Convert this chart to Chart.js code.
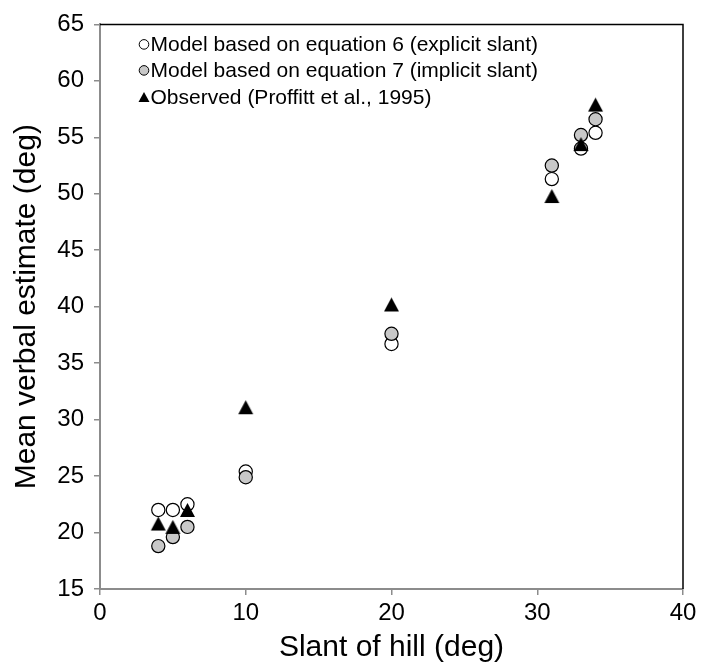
<!DOCTYPE html>
<html>
<head>
<meta charset="utf-8">
<script src="https://cdn.jsdelivr.net/npm/chart.js@4.4.1/dist/chart.umd.min.js"></script>
<style>
  html, body { margin: 0; padding: 0; background: #fff; }
  #wrap { width: 701px; height: 667px; position: relative; }
</style>
</head>
<body>
<div id="wrap"><canvas id="grafico" width="701" height="667"></canvas></div>
<script>
'use strict';

// ── Dati ──────────────────────────────────────────────
const slant    = [4, 5, 6, 10, 20, 31, 33, 34];
const modelEq6 = [22.0, 22.0, 22.5, 25.4, 36.7, 51.3, 54.0, 55.4];
const modelEq7 = [18.8, 19.6, 20.5, 24.9, 37.6, 52.5, 55.2, 56.6];
const observed = [20.8, 20.5, 22.0, 31.1, 40.2, 49.8, 54.4, 57.9];

const seriesLabels = [
  'Model based on equation 6 (explicit slant)',
  'Model based on equation 7 (implicit slant)',
  'Observed (Proffitt et al., 1995)'
];

const xRange = [0, 40];
const xStep = 10;
const yRange = [15, 65];
const yStep = 5;

const FONT = "'Liberation Sans', Arial, Helvetica, sans-serif";
const AXIS_GREY = '#8c8c8c';
const FILL_GREY = '#c8c8c8';

function pts(xs, ys) {
  return xs.map((x, i) => ({ x: x, y: ys[i] }));
}

// triangolo centrato sul bounding box (come nei marker di Excel)
function makeTriangle(w, h) {
  const c = document.createElement('canvas');
  c.width = w + 2;
  c.height = h + 2;
  const g = c.getContext('2d');
  g.fillStyle = '#000';
  g.beginPath();
  g.moveTo(c.width / 2, 1);
  g.lineTo(c.width - 1, h + 1);
  g.lineTo(1, h + 1);
  g.closePath();
  g.fill();
  return c;
}

const triMarker = makeTriangle(15, 14);

// cornice superiore e destra
const framePlugin = {
  id: 'frame',
  afterDraw(chart) {
    const { ctx, chartArea: a } = chart;
    ctx.save();
    ctx.strokeStyle = '#000';
    ctx.lineWidth = 1.5;
    ctx.beginPath();
    ctx.moveTo(a.left, a.top);
    ctx.lineTo(a.right, a.top);
    ctx.lineTo(a.right, a.bottom);
    ctx.stroke();
    ctx.restore();
  }
};

// legenda interna all'area del grafico
const legendPlugin = {
  id: 'innerLegend',
  afterDraw(chart) {
    const { ctx, chartArea: a } = chart;
    const x0 = a.left + 44;
    const rows = [a.top + 20, a.top + 46, a.top + 73];
    ctx.save();
    ctx.font = '21px ' + FONT;
    ctx.textBaseline = 'middle';
    ctx.fillStyle = '#000';
    chart.data.datasets.forEach((ds, i) => {
      const y = rows[i];
      ctx.lineWidth = 1;
      ctx.strokeStyle = '#000';
      if (ds.pointStyle === 'circle') {
        ctx.beginPath();
        ctx.arc(x0, y, 4.8, 0, Math.PI * 2);
        ctx.fillStyle = ds.backgroundColor;
        ctx.fill();
        ctx.stroke();
      } else {
        ctx.fillStyle = '#000';
        ctx.beginPath();
        ctx.moveTo(x0, y - 5.5);
        ctx.lineTo(x0 + 5.5, y + 4.5);
        ctx.lineTo(x0 - 5.5, y + 4.5);
        ctx.closePath();
        ctx.fill();
      }
      ctx.fillStyle = '#000';
      ctx.fillText(ds.label, x0 + 6.5, y + 1);
    });
    ctx.restore();
  }
};

const ctx = document.getElementById('grafico').getContext('2d');

new Chart(ctx, {
  type: 'scatter',
  data: {
    datasets: [
      {
        label: seriesLabels[0],
        data: pts(slant, modelEq6),
        pointStyle: 'circle',
        pointRadius: 6.6,
        pointBorderWidth: 1.2,
        backgroundColor: '#ffffff',
        borderColor: '#000',
        order: 2
      },
      {
        label: seriesLabels[1],
        data: pts(slant, modelEq7),
        pointStyle: 'circle',
        pointRadius: 6.6,
        pointBorderWidth: 1.2,
        backgroundColor: FILL_GREY,
        borderColor: '#000',
        order: 1
      },
      {
        label: seriesLabels[2],
        data: pts(slant, observed),
        pointStyle: triMarker,
        pointRadius: 7,
        backgroundColor: '#000',
        borderColor: '#000',
        order: 0
      }
    ]
  },
  options: {
    responsive: false,
    animation: false,
    layout: { padding: { left: 0, right: 18, top: 22, bottom: 0 } },
    plugins: {
      legend: { display: false },
      tooltip: { enabled: false }
    },
    scales: {
      x: {
        type: 'linear',
        min: xRange[0],
        max: xRange[1],
        ticks: {
          stepSize: xStep,
          color: '#000',
          padding: 4,
          font: { family: FONT, size: 24 }
        },
        grid: {
          drawOnChartArea: false,
          drawTicks: true,
          tickLength: 6,
          color: AXIS_GREY,
          lineWidth: 1.5
        },
        border: { color: AXIS_GREY, width: 2 },
        title: {
          display: true,
          text: 'Slant of hill (deg)',
          color: '#000',
          font: { family: FONT, size: 30 },
          padding: { top: 0, bottom: 1 }
        },
        afterFit(scale) { scale.height = 78; }
      },
      y: {
        type: 'linear',
        min: yRange[0],
        max: yRange[1],
        ticks: {
          stepSize: yStep,
          color: '#000',
          padding: 10,
          font: { family: FONT, size: 24 }
        },
        grid: {
          drawOnChartArea: false,
          drawTicks: true,
          tickLength: 6,
          color: AXIS_GREY,
          lineWidth: 1.5
        },
        border: { color: AXIS_GREY, width: 2 },
        title: {
          display: true,
          text: 'Mean verbal estimate (deg)',
          color: '#000',
          font: { family: FONT, size: 30 },
          padding: { top: 9, bottom: 0 }
        },
        afterFit(scale) { scale.width = 100; }
      }
    }
  },
  plugins: [framePlugin, legendPlugin]
});
</script>
</body>
</html>
